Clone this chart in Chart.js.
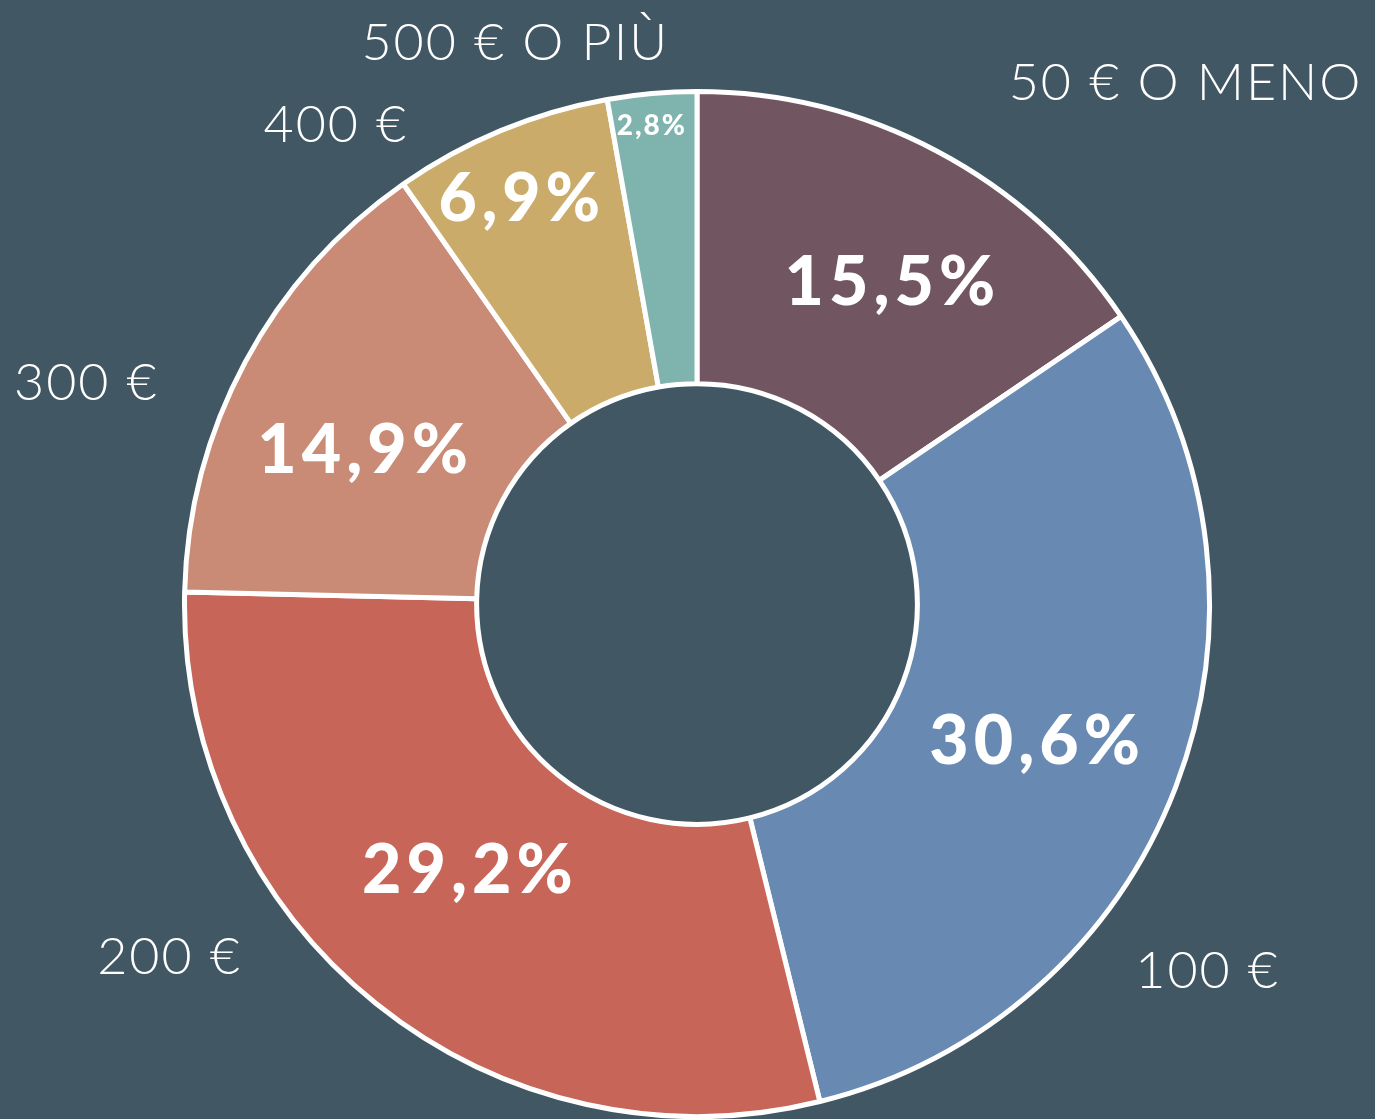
<!DOCTYPE html>
<html>
<head>
<meta charset="utf-8">
<script src="https://cdn.jsdelivr.net/npm/chart.js@4"></script>
<style>
  html, body { margin: 0; padding: 0; background: #425764; }
  #wrap { width: 1375px; height: 1119px; position: relative; }
</style>
</head>
<body>
<div id="wrap"><canvas id="donut"></canvas></div>
<script>
// data
const categories = ['50 € O MENO', '100 €', '200 €', '300 €', '400 €', '500 € O PIÙ'];
const shares = [15.5, 30.6, 29.2, 14.9, 6.9, 2.8];
const sliceColors = ['#715561', '#6889b2', '#c66558', '#c98b75', '#cbab69', '#7fb3ad'];

// label placement (angle from 12 o'clock in degrees, distance as fraction of outer radius)
const pctPlace = [[30.8, 0.735], [111.9, 0.71], [221, 0.683], [295, 0.72], [336.4, 0.866], [354.5, 0.94]];
const pctSize = [68, 68, 68, 68, 66, 28];
const catPlace = [[43, 1.395], [125.6, 1.223], [236.4, 1.238], [290, 1.27], [323, 1.174], [342, 1.154]];

const fmt = v => v.toFixed(1).replace('.', ',') + '%';

const labelPlugin = {
  id: 'donutLabels',
  afterDatasetsDraw(chart) {
    const ctx = chart.ctx;
    const arc = chart.getDatasetMeta(0).data[0];
    const cx = arc.x, cy = arc.y, R = arc.outerRadius;
    const at = (deg, f) => {
      const a = deg * Math.PI / 180;
      return [cx + Math.sin(a) * R * f, cy - Math.cos(a) * R * f];
    };
    ctx.save();
    ctx.fillStyle = '#ffffff';
    ctx.textAlign = 'center';
    ctx.textBaseline = 'alphabetic';

    shares.forEach((v, i) => {
      const [x, y] = at(pctPlace[i][0], pctPlace[i][1]);
      const s = pctSize[i];
      const sp = s > 40 ? 5 : 2;
      ctx.letterSpacing = sp + 'px';
      ctx.font = '900 ' + s + 'px Lato';
      ctx.fillText(fmt(v), x + sp / 2, y + s * 0.36);
    });

    categories.forEach((c, i) => {
      const [x, y] = at(catPlace[i][0], catPlace[i][1]);
      ctx.letterSpacing = '2px';
      ctx.font = '300 52px Lato';
      ctx.fillText(c, x + 1, y + 52 * 0.36);
    });
    ctx.restore();
  }
};

new Chart('donut', {
  type: 'doughnut',
  data: {
    labels: categories,
    datasets: [{
      data: shares,
      backgroundColor: sliceColors,
      borderColor: '#ffffff',
      borderWidth: 5,
      borderAlign: 'center'
    }]
  },
  options: {
    responsive: true,
    maintainAspectRatio: false,
    animation: false,
    cutout: '43%',
    layout: {
      padding: { left: 182, right: 163, top: 89, bottom: 0 }
    },
    plugins: {
      legend: { display: false },
      tooltip: { enabled: false }
    }
  },
  plugins: [labelPlugin]
});
</script>
</body>
</html>
